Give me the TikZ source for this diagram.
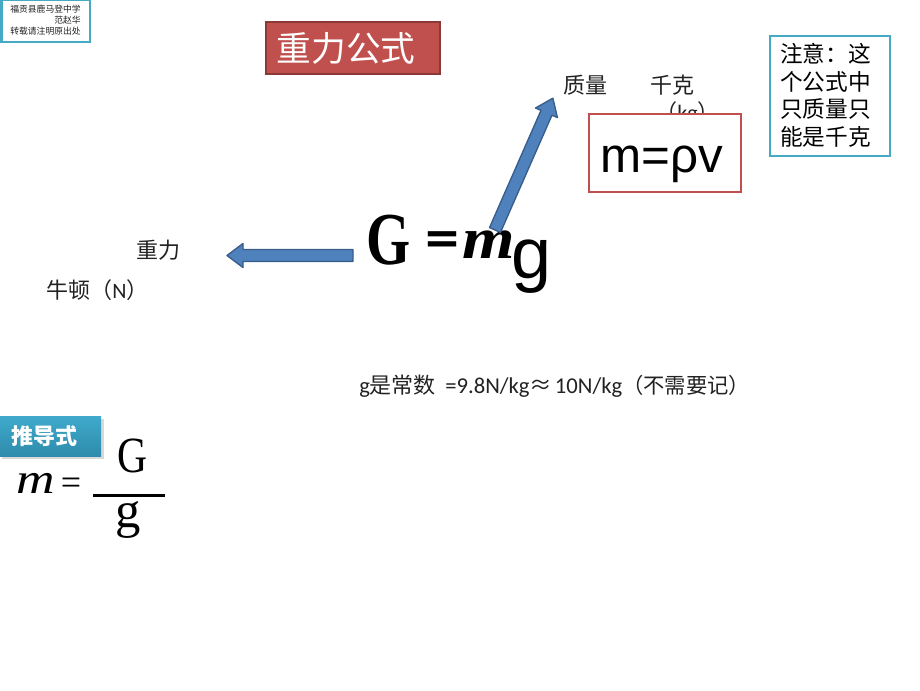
\documentclass[tikz,border=0pt]{standalone}
\usepackage{fontspec}
\setmainfont{Carlito}
\newfontfamily\cjk{Noto Sans CJK SC}
\newfontfamily\lserif{Liberation Serif}
\newfontfamily\lsans{Liberation Sans}
\newfontfamily\dejab{DejaVu Sans}
\definecolor{blueline}{HTML}{46AAC5}
\definecolor{redline}{HTML}{C0504D}
\definecolor{reddark}{HTML}{8C3836}
\definecolor{arrowfill}{HTML}{4F81BD}
\definecolor{arrowline}{HTML}{385D8A}
\definecolor{tealtop}{HTML}{3FA9CC}
\definecolor{tealbot}{HTML}{2E8BAB}
\definecolor{txt}{HTML}{222222}
\tikzset{
  lbl/.style={inner sep=0pt,text=txt,font=\cjk\fontsize{16.5}{20}\selectfont,anchor=west},
  blockshape/.style={draw=arrowline,fill=arrowfill,line width=1pt,line join=round},
  eq/.style={inner sep=0pt,text=black,anchor=base},
  wmtext/.style={inner sep=0pt,anchor=east,font=\cjk\fontsize{6.6}{8}\selectfont,text=txt},
}
\begin{document}
\begin{tikzpicture}[x=0.75pt,y=-0.75pt]
\useasboundingbox (0,0) rectangle (920,690);
% watermark box
\node[draw=blueline,line width=1.5pt,fill=white,minimum width=66pt,minimum height=31.5pt,inner sep=0pt] (wm) at (45.5,21) {};
\node[wmtext] (wm1) at (81,9) {福贡县鹿马登中学};
\node[wmtext] (wm2) at (81,20) {范赵华};
\node[wmtext] (wm3) at (81,31) {转载请注明原出处};
% title
\node[draw=reddark,line width=1.5pt,fill=redline,minimum width=130.5pt,minimum height=39.5pt,inner sep=0pt] (title) at (352.5,48) {};
\node[inner sep=0pt,text=white,font=\cjk\fontsize{26}{30}\selectfont] (titletext) at (346,48) {重力公式};
% labels
\node[lbl] (zl) at (563,85) {质量};
\node[lbl] (qk) at (650,85) {千克};
\node[lbl] (kg) at (655,113) {（\rmfamily kg\cjk）};
\node[lbl] (zhl) at (136,250) {重力};
\node[lbl] (nd) at (46,290) {牛顿（\rmfamily N\cjk）};
% rho box
\node[draw=redline,line width=1.5pt,fill=white,minimum width=114pt,minimum height=58pt,inner sep=0pt] (rho) at (665,153) {};
\node[eq,font=\lsans\fontsize{37}{42}\selectfont] (rhotext) at (662,172) {m=ρv};
% note
\node[draw=blueline,line width=2pt,fill=white,minimum width=90pt,minimum height=90pt,inner sep=0pt] (note) at (830,96) {};
\node[inner sep=0pt,anchor=north west,align=left,font=\cjk\fontsize{17}{20.8}\selectfont,text=black] (notetext) at (780,43) {注意：这\\个公式中\\只质量只\\能是千克};
% formula
\node[eq,font=\lserif\fontsize{56}{60}\selectfont\bfseries,xscale=.76] (G) at (389,264) {G};
\node[eq,font=\dejab\fontsize{34}{40}\selectfont\bfseries] (eq1) at (442,253) {=};
\node[eq,font=\lserif\fontsize{44}{50}\selectfont\bfseries\itshape,xscale=1.15] (m1) at (489,258) {m};
\node[eq,font=\lsans\fontsize{54}{60}\selectfont] (g1) at (532,278) {g};
% arrows
\begin{scope}[shift={(353,255.5)},rotate=180]
  \draw[blockshape] (0,-6) -- (110,-6) -- (110,-12) -- (126,0) -- (110,12) -- (110,6) -- (0,6) -- cycle;
\end{scope}
\begin{scope}[shift={(495,230)},rotate=66.3]
  \draw[blockshape] (0,-6) -- (128,-6) -- (128,-12) -- (144,0) -- (128,12) -- (128,6) -- (0,6) -- cycle;
\end{scope}
% g constant
\node[lbl,font=\fontsize{17}{20}\selectfont] (gc) at (359,386) {g{\cjk\fontsize{16.5}{20}\selectfont 是常数}\hspace{7pt}=9.8N/kg{\cjk\fontsize{17}{20}\selectfont ≈}\hspace{2pt}10N/kg{\cjk\fontsize{16}{20}\selectfont（不需要记）}};
% derive
\fill[black!15] (2,419) rectangle (103.5,458.5);
\node[top color=tealtop,bottom color=tealbot,minimum width=76pt,minimum height=29.5pt,inner sep=0pt] (tui) at (50.5,436.5) {};
\node[inner sep=0pt,text=white,font=\cjk\bfseries\fontsize{16.5}{20}\selectfont,anchor=west] (tuitext) at (11,436) {推导式};
\node[eq,font=\lserif\fontsize{32}{36}\selectfont\itshape,xscale=1.25] (m2) at (35.5,493) {m};
\node[eq,font=\lserif\fontsize{27}{32}\selectfont] (eq2) at (71,494) {=};
\node[eq,font=\lserif\fontsize{38}{44}\selectfont,xscale=.82] (G2) at (132,472) {G};
\node[eq,font=\lserif\fontsize{38}{44}\selectfont] (g2) at (128,527) {g};
\coordinate (fl) at (93,495.5);
\coordinate (fr) at (165,495.5);
\draw[line width=2.4pt,black] (fl) -- (fr);
\end{tikzpicture}
\end{document}
